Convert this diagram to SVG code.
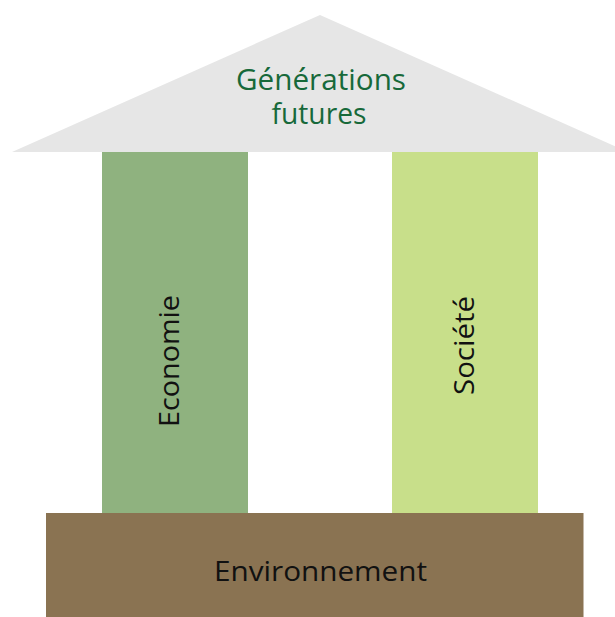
<svg xmlns="http://www.w3.org/2000/svg" width="615" height="617" viewBox="0 0 615 617">
<style>
.lbl{font-family:"Open Sans","DejaVu Sans",sans-serif;fill:#111;text-anchor:middle}
.roof{font-family:"Open Sans","DejaVu Sans",sans-serif;fill:#17693a;text-anchor:middle;font-size:29px}
</style>
<rect width="615" height="617" fill="#fff"/>
<g id="roof">
<polygon points="12,152 320,15 628,152" fill="#e6e6e6"/>
<text class="roof" x="321" y="90" textLength="170" lengthAdjust="spacingAndGlyphs">Générations</text>
<text class="roof" x="319" y="124" textLength="95" lengthAdjust="spacingAndGlyphs">futures</text>
</g>
<g id="economie">
<rect x="102" y="152" width="146" height="361" fill="#8fb27f"/>
<text class="lbl" font-size="28" transform="translate(178.5,361) rotate(-90)" textLength="132" lengthAdjust="spacingAndGlyphs">Economie</text>
</g>
<g id="societe">
<rect x="392" y="152" width="146" height="361" fill="#c8df8a"/>
<text class="lbl" font-size="28" transform="translate(473.5,345.5) rotate(-90)" textLength="99" lengthAdjust="spacingAndGlyphs">Société</text>
</g>
<g id="environnement">
<rect x="46" y="513" width="537.5" height="104" fill="#8a7352"/>
<text class="lbl" font-size="27" x="320.5" y="581" textLength="213" lengthAdjust="spacingAndGlyphs">Environnement</text>
</g>
<g id="connectors"/>
</svg>
